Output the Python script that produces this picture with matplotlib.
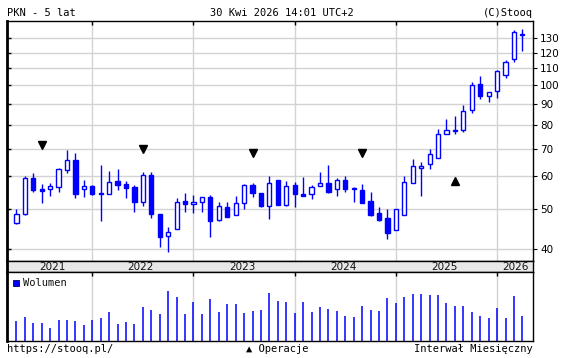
import matplotlib
matplotlib.use("Agg")
import matplotlib.pyplot as plt
from matplotlib.patches import Rectangle
import numpy as np
import pandas as pd

# monthly candles PKN, Apr 2021 .. Apr 2026
months = pd.period_range("2021-04", periods=61, freq="M")

open_ = [46.1, 48.6, 59.5, 55.8, 56.0, 56.6, 62.0, 65.7, 55.8, 56.8,
         54.7, 54.3, 58.5, 57.4, 56.5, 51.9, 60.3, 48.5, 42.9, 44.6,
         52.4, 51.3, 51.9, 53.4, 47.0, 50.4, 48.4, 51.6, 57.1, 54.7,
         50.9, 58.8, 51.1, 57.1, 54.4, 54.3, 56.8, 57.8, 55.8, 58.7,
         56.2, 55.5, 52.2, 48.8, 47.4, 44.3, 48.4, 57.7, 62.7, 64.2,
         66.6, 76.1, 77.4, 77.6, 86.9, 100.5, 94.0, 96.6, 105.6, 116.0,
         132.5]
high = [50.0, 60.0, 61.1, 57.5, 57.8, 62.8, 69.5, 68.4, 58.7, 57.0,
        63.9, 61.8, 62.5, 58.5, 57.2, 61.5, 61.5, 48.5, 45.1, 53.1,
        54.5, 54.0, 53.4, 54.1, 51.9, 51.9, 53.8, 57.5, 57.8, 54.7,
        60.1, 58.8, 58.5, 58.2, 59.8, 57.2, 61.5, 63.9, 59.5, 60.1,
        56.5, 57.5, 55.0, 50.6, 50.0, 50.1, 60.0, 66.3, 64.9, 70.1,
        78.0, 82.5, 83.9, 89.3, 101.6, 105.1, 96.1, 108.6, 115.4, 136.4,
        137.2]
low = [46.0, 48.4, 55.1, 51.8, 53.6, 55.1, 61.3, 53.0, 53.3, 54.0,
       46.8, 54.3, 55.7, 53.0, 49.2, 50.9, 47.6, 40.4, 39.3, 44.6,
       49.2, 48.9, 49.2, 42.8, 46.6, 47.8, 48.4, 50.1, 53.5, 50.4,
       47.2, 51.0, 50.8, 50.6, 53.6, 52.9, 56.8, 54.7, 53.8, 54.9,
       52.0, 51.8, 48.1, 46.8, 42.3, 44.3, 48.4, 57.7, 53.8, 62.6,
       66.6, 76.1, 76.1, 77.1, 85.4, 92.4, 90.9, 92.9, 103.8, 114.1,
       121.3]
close = [48.5, 59.3, 55.7, 55.4, 56.8, 62.4, 65.6, 54.2, 56.8, 54.2,
         54.3, 58.1, 57.3, 56.3, 52.0, 60.3, 48.6, 42.8, 43.9, 52.1,
         51.3, 51.9, 53.4, 46.6, 50.7, 47.8, 51.6, 57.1, 54.5, 50.8,
         57.7, 51.1, 56.8, 54.2, 53.6, 56.4, 57.8, 55.0, 58.7, 55.9,
         55.8, 51.8, 48.4, 47.1, 43.8, 50.1, 58.2, 63.4, 63.4, 68.1,
         76.1, 77.6, 77.6, 86.4, 99.9, 94.0, 96.1, 108.0, 114.1, 134.9,
         133.0]
volume = [19.7, 23.7, 17.7, 17.7, 12.7, 20.7, 20.7, 19.7, 15.7, 20.7,
          22.7, 28.7, 16.7, 18.7, 16.7, 33.7, 30.7, 26.7, 49.7, 43.7,
          26.7, 38.7, 26.7, 41.7, 28.7, 36.7, 36.7, 27.7, 29.7, 30.7,
          47.7, 39.7, 38.7, 27.7, 38.7, 28.7, 33.7, 31.7, 29.7, 24.7,
          23.7, 34.7, 30.7, 29.7, 42.7, 37.7, 43.7, 46.7, 46.7, 45.7,
          45.7, 37.7, 34.7, 34.7, 28.7, 24.7, 22.7, 32.7, 22.7, 44.7,
          24.7]

# operations markers (month index, price level)
ops_down_idx = [3, 15, 28, 41]
ops_down_price = [71.5, 69.9, 68.5, 68.5]
ops_up_idx = [52]
ops_up_price = [58.4]

price_ticks = [40, 50, 60, 70, 80, 90, 100, 110, 120, 130]

BLUE = "#0000ff"
GRID = "#d3d3d3"

x = np.arange(len(months))
o = np.array(open_)
c = np.array(close)
up = c >= o
year_idx = [i for i, m in enumerate(months) if m.month == 1]
xmin, xmax = -1.08, 61.26

W, H = 561, 358
fig = plt.figure(figsize=(W / 100, H / 100), dpi=100)

def box(l, t, r, b):
    return [l / W, 1 - b / H, (r - l) / W, (b - t) / H]

ax = fig.add_axes(box(7.3, 21.3, 533, 260.7))
band = fig.add_axes(box(7.3, 260.7, 533, 272.3))
axv = fig.add_axes(box(7.3, 272.3, 533, 340.7))

# ---- price panel
ax.set_yscale("log")
ax.set_xlim(xmin, xmax)
ax.set_ylim(37.4, 143.0)
for yv in price_ticks:
    ax.axhline(yv, color=GRID, lw=1.0, zorder=0)
for i in year_idx:
    ax.axvline(i, color=GRID, lw=1.0, zorder=0)

ax.vlines(x, low, high, color=BLUE, lw=1.0, zorder=2)
bh = np.maximum(np.abs(c - o), 0.25)
bb = np.minimum(o, c)
ax.bar(x[up], bh[up], bottom=bb[up], width=0.5, facecolor="white",
       edgecolor=BLUE, linewidth=1.0, zorder=3)
ax.bar(x[~up], bh[~up], bottom=bb[~up], width=0.5, facecolor=BLUE,
       edgecolor=BLUE, linewidth=1.0, zorder=3)

ax.plot(ops_down_idx, ops_down_price, "v", color="black", ms=5.5, zorder=4)
ax.plot(ops_up_idx, ops_up_price, "^", color="black", ms=5.5, zorder=4)

ax.yaxis.set_major_locator(plt.FixedLocator(price_ticks))
ax.yaxis.set_minor_locator(plt.NullLocator())
ax.set_yticklabels([str(t) for t in price_ticks])
ax.tick_params(axis="y", which="both", left=False, right=True, labelleft=False,
               labelright=True, direction="out", length=3, width=0.8,
               labelsize=7.5, pad=2)
sec = ax.secondary_yaxis("left")
sec.set_yticks(price_ticks)
sec.yaxis.set_minor_locator(plt.NullLocator())
sec.tick_params(axis="y", which="both", direction="in", length=3, width=1.0,
                labelleft=False)
sec.spines["left"].set_visible(False)
ax.set_xticks(year_idx)
ax.tick_params(axis="x", top=True, bottom=False, labelbottom=False,
               direction="in", length=3, width=1.0)
for s in ax.spines.values():
    s.set_linewidth(1.0)
ax.spines["left"].set_linewidth(2.0)

# ---- year band
band.set_xlim(xmin, xmax)
band.set_ylim(0, 1)
band.set_facecolor("#e8e8e8")
band.set_xticks([])
band.set_yticks([])
for s in band.spines.values():
    s.set_linewidth(1.0)
band.spines["left"].set_linewidth(2.0)
starts = [0] + year_idx
ends = [i - 0.5 for i in year_idx] + [xmax]
ends[0] = year_idx[0] - 0.5
for a, b in zip(starts, ends):
    band.text((a + b) / 2, 0.45, str(months[a].year), ha="center",
              va="center", fontsize=7.5, color="#111111")

# ---- volume panel
axv.set_xlim(xmin, xmax)
axv.set_ylim(0, 68.4)
for i in year_idx:
    axv.axvline(i, color=GRID, lw=1.0, zorder=0)
axv.vlines(x, 0, volume, color=BLUE, lw=1.1, zorder=2)
axv.set_yticks([])
axv.set_xticks(year_idx)
axv.tick_params(axis="x", top=True, bottom=False, labelbottom=False,
                direction="in", length=3, width=1.0)
for s in axv.spines.values():
    s.set_linewidth(1.0)
axv.spines["left"].set_linewidth(2.0)
axv.add_patch(Rectangle((0.0114, 0.804), 0.0114, 0.083, transform=axv.transAxes,
                        facecolor=BLUE, edgecolor="#000060", lw=0.6, zorder=5))
axv.text(0.0299, 0.845, "Wolumen", transform=axv.transAxes, ha="left",
         va="center", fontsize=7.5, family="DejaVu Sans Mono", color="#111111")

# ---- header / footer
mono = ["DejaVu Sans Mono", "DejaVu Sans"]
fig.text(7.3 / W, 1 - 13 / H, "PKN - 5 lat", ha="left", va="center",
         fontsize=7.5, family=mono)
fig.text(282 / W, 1 - 13 / H, "30 Kwi 2026 14:01 UTC+2", ha="center",
         va="center", fontsize=7.5, family=mono)
fig.text(533 / W, 1 - 13 / H, "(C)Stooq", ha="right", va="center",
         fontsize=7.5, family=mono)
fig.text(7.3 / W, 1 - 349.3 / H, "https://stooq.pl/", ha="left",
         va="center", fontsize=7.5, family=mono)
fig.text(277 / W, 1 - 349.3 / H, "\u25b2 Operacje", ha="center",
         va="center", fontsize=7.5, family=mono)
fig.text(533 / W, 1 - 349.3 / H, "Interwa\u0142 Miesi\u0119czny", ha="right",
         va="center", fontsize=7.5, family=mono)

fig.savefig("out.png", dpi=100)
